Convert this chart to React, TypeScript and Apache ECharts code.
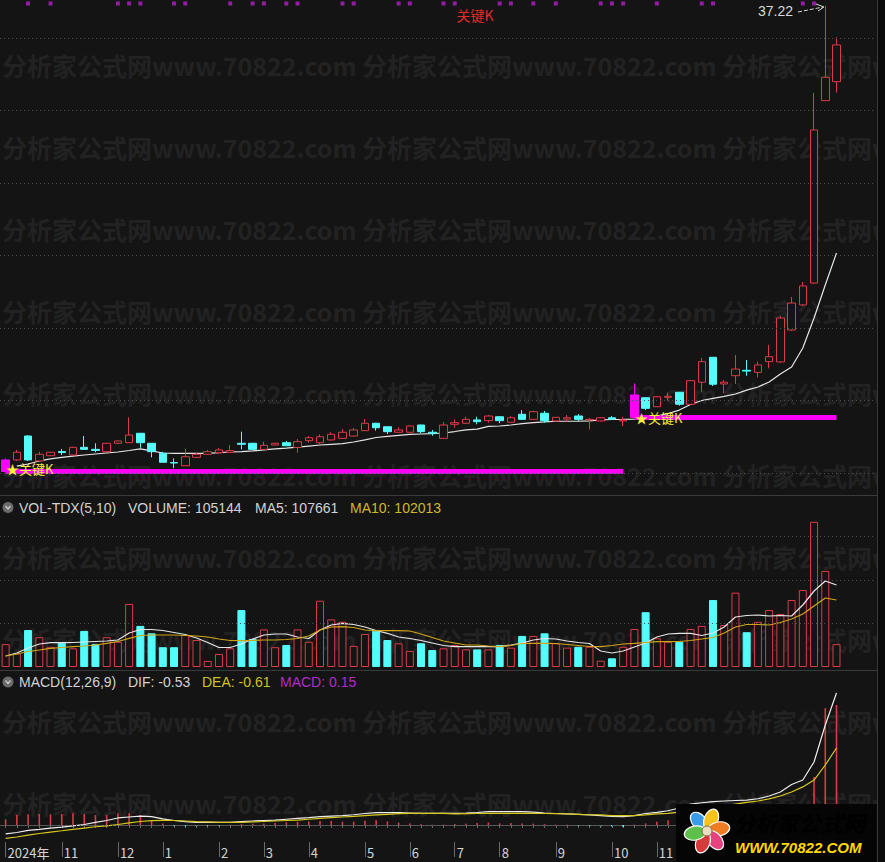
import React, { useEffect, useRef } from 'react';
import * as echarts from 'echarts';

// ---------- data ----------
const categories = Array.from({ length: 78 }, (_, i) => `W${i + 1}`);
const monthLabels: Record<number, string> = {
  0: '2024年', 5: '11', 10: '12', 14: '1', 19: '2', 23: '3', 27: '4', 32: '5', 36: '6',
  40: '7', 44: '8', 49: '9', 54: '10', 58: '11',
};

const opens = [5.10, 5.90, 7.55, 5.83, 6.19, 6.48, 6.24, 6.77, 6.63, 6.47, 7.05, 7.09, 7.74, 7.05, 6.36, 5.72, 5.50, 6.08, 6.29, 6.40,
  6.43, 7.05, 7.05, 6.63, 6.93, 7.09, 6.76, 7.23, 7.09, 7.28, 7.39, 7.55, 7.92, 8.43, 8.19, 7.81, 7.81, 8.31, 7.81, 7.39,
  8.36, 8.43, 8.66, 8.61, 8.88, 8.50, 9.05, 8.70, 9.12, 8.59, 8.72, 8.93, 8.66, 8.59, 8.81, 8.59, 8.83, 10.19, 9.57, 10.22,
  10.57, 9.74, 11.26, 12.98, 11.14, 11.71, 12.08, 11.94, 12.68, 12.66, 14.86, 16.59, 18.10, 30.68, 31.99];
const closes = [5.90, 6.43, 5.90, 6.29, 6.43, 6.41, 6.77, 6.63, 6.56, 7.05, 7.21, 7.62, 7.09, 6.47, 5.74, 5.69, 6.12, 6.29, 6.47, 6.59,
  6.55, 6.98, 6.63, 6.91, 7.05, 6.88, 7.16, 7.43, 7.50, 7.67, 7.81, 7.97, 8.43, 8.12, 7.85, 7.97, 8.24, 7.85, 7.74, 8.31,
  8.47, 8.70, 8.54, 8.93, 8.61, 8.81, 8.70, 9.23, 8.61, 8.84, 8.81, 8.70, 8.70, 8.81, 8.72, 8.66, 10.38, 9.46, 10.26, 10.29,
  9.74, 11.37, 12.68, 11.12, 11.26, 12.17, 12.03, 12.45, 13.02, 15.69, 16.72, 17.90, 28.66, 32.29, 34.52];
const lows = [5.05, 5.83, 5.83, 5.76, 6.17, 6.24, 6.21, 6.59, 6.43, 6.45, 7.00, 7.07, 6.74, 6.08, 5.74, 5.33, 5.48, 6.03, 6.24, 6.36,
  6.38, 6.63, 6.59, 6.59, 6.90, 6.86, 6.40, 7.09, 6.93, 7.24, 7.38, 7.52, 7.90, 7.92, 7.69, 7.79, 7.79, 7.74, 7.57, 7.38,
  8.12, 8.41, 8.36, 8.47, 8.43, 8.48, 8.69, 8.69, 8.47, 8.55, 8.54, 8.59, 8.00, 8.55, 8.66, 8.24, 8.79, 9.34, 9.55, 9.99,
  9.64, 9.72, 10.61, 11.00, 10.50, 11.14, 11.71, 11.60, 12.22, 12.59, 14.79, 16.52, 18.03, 30.66, 31.23];
const highs = [6.00, 6.59, 7.62, 6.47, 6.45, 6.66, 6.81, 7.55, 7.05, 7.07, 7.24, 8.84, 7.76, 7.07, 6.47, 6.01, 6.66, 6.38, 6.59, 6.72,
  6.93, 7.85, 7.07, 7.16, 7.07, 7.21, 7.34, 7.55, 7.67, 7.81, 8.03, 8.10, 8.72, 8.45, 8.21, 8.15, 8.28, 8.33, 7.97, 8.52,
  8.70, 8.88, 8.88, 9.00, 8.90, 8.93, 9.34, 9.30, 9.28, 8.86, 9.00, 9.07, 8.79, 8.86, 8.93, 8.88, 11.17, 10.24, 10.31, 10.54,
  10.59, 11.41, 12.93, 13.00, 11.41, 13.14, 12.79, 12.68, 13.83, 15.83, 17.14, 18.17, 31.21, 37.22, 35.05];
const priceMA = ['-', 5.48, 5.62, 5.83, 5.97, 6.08, 6.17, 6.24, 6.31, 6.38, 6.45, 6.55, 6.66, 6.52, 6.38, 6.36, 6.36, 6.36, 6.36, 6.41,
  6.45, 6.48, 6.52, 6.59, 6.66, 6.72, 6.79, 6.86, 6.93, 6.98, 7.03, 7.14, 7.28, 7.45, 7.52, 7.59, 7.66, 7.69, 7.72, 7.76,
  7.86, 7.97, 8.03, 8.21, 8.24, 8.31, 8.41, 8.48, 8.52, 8.57, 8.57, 8.57, 8.59, 8.66, 8.69, 8.70, 8.72, 8.79, 8.93, 9.10,
  9.34, 9.72, 10.00, 10.15, 10.28, 10.45, 10.72, 10.93, 11.28, 11.83, 12.31, 13.62, 15.69, 17.97, 20.17];

const volumes = [105144, 62000, 170000, 137000, 93000, 112000, 86000, 166000, 106000, 137000, 116000, 290000, 189000, 155000, 91000, 91000, 147000, 124000, 28000, 60000,
  86000, 262000, 129000, 173000, 91000, 101000, 173000, 116000, 305000, 219000, 208000, 97000, 152000, 167000, 124000, 109000, 74000, 109000, 78000, 86000,
  101000, 81000, 81000, 81000, 101000, 89000, 143000, 143000, 155000, 109000, 89000, 93000, 93000, 29000, 40000, 93000, 175000, 252000, 132000, 116000,
  116000, 175000, 189000, 308000, 193000, 342000, 160000, 208000, 262000, 244000, 308000, 354000, 668000, 442000, 105144];
const volMA5 = [50600, 64400, 87400, 105800, 111800, 111800, 112700, 115000, 117300, 119600, 124200, 156400, 172500, 172500, 167900, 158700, 149500, 133400, 112700, 89700,
  89700, 105800, 128800, 147200, 151800, 151800, 138000, 131100, 170200, 193200, 201000, 195500, 184000, 167900, 155000, 138000, 131100, 121900, 110400, 98900,
  93400, 93400, 93400, 93400, 93400, 101200, 110400, 124200, 131100, 128800, 119600, 112700, 108100, 73600, 64400, 73600, 92000, 110400, 138000, 151800,
  155000, 155000, 144900, 156400, 184000, 230000, 236900, 239200, 234600, 236900, 234600, 285200, 349600, 395600, 377200];
const volMA10 = [50600, 59800, 71300, 78200, 86000, 89700, 93400, 96600, 101200, 109000, 117300, 132000, 144900, 147200, 147200, 147200, 144900, 142600, 138000, 128800,
  121900, 121000, 121900, 124200, 124200, 126500, 131100, 142600, 170200, 184000, 185400, 181700, 170200, 167000, 167000, 167000, 165600, 151800, 135700, 119600,
  110400, 101200, 101200, 96600, 93400, 98900, 108100, 109000, 109000, 108100, 103500, 98900, 94300, 93400, 98900, 105800, 109000, 112700, 116400, 116400,
  117300, 121900, 128800, 135700, 156400, 184000, 195500, 195500, 193200, 204700, 220800, 243800, 280600, 317400, 308200];

const dif = [-0.56, -0.47, -0.34, -0.27, -0.19, -0.13, -0.06, 0.03, 0.16, 0.28, 0.44, 0.50, 0.56, 0.52, 0.38, 0.28, 0.21, 0.17, 0.17, 0.17,
  0.17, 0.21, 0.25, 0.28, 0.31, 0.36, 0.41, 0.46, 0.52, 0.56, 0.58, 0.64, 0.72, 0.77, 0.77, 0.77, 0.75, 0.73, 0.73, 0.73,
  0.73, 0.75, 0.78, 0.83, 0.83, 0.83, 0.83, 0.81, 0.75, 0.72, 0.69, 0.67, 0.63, 0.58, 0.53, 0.52, 0.59, 0.72, 0.79, 0.89,
  1.06, 1.31, 1.39, 1.46, 1.50, 1.53, 1.56, 1.64, 1.81, 2.06, 2.53, 2.81, 3.94, 6.25, 8.25];
const dea = [-0.83, -0.75, -0.63, -0.53, -0.44, -0.36, -0.27, -0.19, -0.11, -0.06, 0.03, 0.13, 0.22, 0.27, 0.29, 0.28, 0.25, 0.21, 0.19, 0.17,
  0.17, 0.17, 0.19, 0.22, 0.25, 0.28, 0.31, 0.36, 0.41, 0.46, 0.50, 0.54, 0.59, 0.63, 0.67, 0.71, 0.73, 0.73, 0.73, 0.73,
  0.69, 0.71, 0.72, 0.73, 0.73, 0.73, 0.73, 0.73, 0.72, 0.71, 0.69, 0.67, 0.64, 0.63, 0.59, 0.58, 0.59, 0.63, 0.69, 0.73,
  0.81, 0.91, 1.00, 1.09, 1.19, 1.31, 1.41, 1.50, 1.63, 1.81, 2.06, 2.38, 2.81, 3.75, 4.81];
const macdBars = [0.36, 0.62, 0.67, 0.69, 0.67, 0.69, 0.73, 0.69, 0.62, 0.62, 0.73, 0.73, 0.62, 0.31, 0.10, -0.05, -0.08, -0.08, -0.05, -0.03,
  0.02, 0.05, 0.08, 0.10, 0.12, 0.17, 0.20, 0.22, 0.25, 0.25, 0.20, 0.20, 0.27, 0.30, 0.22, 0.15, 0.10, 0.05, 0.02, 0.03,
  0.06, 0.08, 0.12, 0.15, 0.10, 0.12, 0.10, 0.08, 0.05, 0.02, 0.02, -0.03, -0.05, -0.08, -0.10, -0.12, 0.02, 0.10, 0.20, 0.30,
  0.45, 0.65, 0.70, 0.70, 0.60, 0.45, 0.30, 0.28, 0.38, 0.50, 0.95, 1.10, 3.00, 7.30, 7.50];

const keyCandles = [0, 56];
const keyPrices = [5.10, 8.83];
const keyLineEnds = [55, 74];
const signalWeeks = [2, 4, 10, 11, 12, 15, 16, 20, 22, 23, 25, 26, 30, 31, 35, 36, 39, 40, 44, 45, 47, 49, 53, 54, 55, 58, 62, 63, 71, 72];
const priceGridLines = [5, 10, 15, 20, 25, 30, 35];
const volGridLines = [200000, 400000, 600000];

// ---------- style ----------
const BG = '#141414';
const RED = '#dc3a48';
const CYAN = '#54fcfc';
const MAGENTA = '#ff00ff';
const DOT = '#4e4e4e';
const FONT = '"Liberation Sans", Arial, "Noto Sans CJK SC", sans-serif';
const CJK = '"Noto Sans CJK SC", "Liberation Sans", sans-serif';

const gridLeft = -4;
const gridWidth = 879.8;

function buildOption() {
  const candleData = opens.map((o, i) => {
    const v = [o, closes[i], lows[i], highs[i]];
    if (keyCandles.includes(i)) {
      return { value: v, itemStyle: { color: MAGENTA, color0: MAGENTA, borderColor: MAGENTA, borderColor0: MAGENTA } };
    }
    return v;
  });
  const volData = volumes.map((v, i) => {
    const up = closes[i] >= opens[i];
    return {
      value: v,
      itemStyle: { color: up ? BG : CYAN, borderColor: up ? RED : CYAN, borderWidth: 1 },
    };
  });
  const macdData = macdBars.map((v) => ({ value: v, itemStyle: { color: v >= 0 ? RED : CYAN } }));
  const dotted = (values: number[]) => ({
    silent: true,
    symbol: ['none', 'none'],
    label: { show: false },
    lineStyle: { color: DOT, type: [1, 3], width: 1 },
    data: values.map((v) => ({ yAxis: v })),
  });

  const watermark: any[] = [];
  for (let r = 0; r < 10; r++) {
    for (let c = 0; c < 3; c++) {
      watermark.push({
        type: 'text', x: 2 + c * 360, y: 65 + r * 82, z: 0, silent: true,
        style: { text: '分析家公式网www.70822.com', fill: '#222222', font: `bold 25px ${CJK}`, verticalAlign: 'middle', textVerticalAlign: 'middle' },
      });
    }
  }

  const petals = [
    { a: -40, c: '#3b9be6' }, { a: 20, c: '#f6c31c' }, { a: 80, c: '#ef7b22' },
    { a: 140, c: '#e8417f' }, { a: 200, c: '#d63a3a' }, { a: 260, c: '#5cc04a' },
  ];

  const tStyle = (text: string, fill: any, font: string) => ({
    text, fill, font, verticalAlign: 'middle', textVerticalAlign: 'middle',
  });
  const TOP = { z: 100, zlevel: 1 };

  const graphics: any[] = [
    ...watermark,
    // right strip beyond border
    { type: 'rect', ...TOP, silent: true, shape: { x: 878, y: 0, width: 7, height: 862 }, style: { fill: '#0b0b0b' } },
    // separators and border
    { type: 'line', shape: { x1: 0, y1: 495.5, x2: 878, y2: 495.5 }, style: { stroke: '#3a3a3a', lineWidth: 1 }, z: 1, silent: true },
    { type: 'line', shape: { x1: 0, y1: 670.5, x2: 878, y2: 670.5 }, style: { stroke: '#3a3a3a', lineWidth: 1 }, z: 1, silent: true },
    { type: 'line', ...TOP, shape: { x1: 877.5, y1: 0, x2: 877.5, y2: 862 }, style: { stroke: '#3a3a3a', lineWidth: 1 }, silent: true },
    // top annotations
    { type: 'text', x: 475, y: 15, z: 5, style: { text: '关键K', fill: '#e02a2a', font: `14px ${CJK}`, align: 'center', textAlign: 'center', verticalAlign: 'middle', textVerticalAlign: 'middle' } },
    { type: 'text', x: 758, y: 11, z: 5, style: tStyle('37.22', '#d8d8d8', `14px ${FONT}`) },
    { type: 'line', z: 5, shape: { x1: 798, y1: 12, x2: 823, y2: 7 }, style: { stroke: '#d8d8d8', lineWidth: 1, lineDash: [4, 2] } },
    { type: 'polyline', z: 5, shape: { points: [[816, 4], [824, 7], [818, 11]] }, style: { stroke: '#d8d8d8', lineWidth: 1, fill: null } },
    // VOL title
    { type: 'circle', z: 5, shape: { cx: 8, cy: 507.5, r: 5.5 }, style: { fill: '#6a6a6a' } },
    { type: 'polyline', z: 6, shape: { points: [[5.5, 506], [8, 509], [10.5, 506]] }, style: { stroke: '#d0d0d0', lineWidth: 1.2, fill: null } },
    { type: 'text', x: 19, y: 507.5, z: 5, style: tStyle('VOL-TDX(5,10)', '#d2d2d2', `14px ${FONT}`) },
    { type: 'text', x: 128, y: 507.5, z: 5, style: tStyle('VOLUME: 105144', '#d2d2d2', `14px ${FONT}`) },
    { type: 'text', x: 255, y: 507.5, z: 5, style: tStyle('MA5: 107661', '#d2d2d2', `14px ${FONT}`) },
    { type: 'text', x: 350, y: 507.5, z: 5, style: tStyle('MA10: 102013', '#cdb92a', `14px ${FONT}`) },
    // MACD title
    { type: 'circle', z: 5, shape: { cx: 8, cy: 682, r: 5.5 }, style: { fill: '#6a6a6a' } },
    { type: 'polyline', z: 6, shape: { points: [[5.5, 680.5], [8, 683.5], [10.5, 680.5]] }, style: { stroke: '#d0d0d0', lineWidth: 1.2, fill: null } },
    { type: 'text', x: 19, y: 682, z: 5, style: tStyle('MACD(12,26,9)', '#d2d2d2', `14px ${FONT}`) },
    { type: 'text', x: 128, y: 682, z: 5, style: tStyle('DIF: -0.53', '#d2d2d2', `14px ${FONT}`) },
    { type: 'text', x: 202, y: 682, z: 5, style: tStyle('DEA: -0.61', '#cdc22a', `14px ${FONT}`) },
    { type: 'text', x: 280, y: 682, z: 5, style: tStyle('MACD: 0.15', '#b02cc8', `14px ${FONT}`) },
    // logo
    { type: 'rect', ...TOP, shape: { x: 676, y: 804, width: 201, height: 58 }, style: { fill: '#050505' } },
    ...petals.map((p) => ({
      type: 'group', x: 707, y: 831, rotation: (-p.a * Math.PI) / 180,
      children: [{ type: 'ellipse', z: 101, zlevel: 1, shape: { cx: 0, cy: -12, rx: 7, ry: 11 }, style: { fill: p.c, stroke: '#ffffff', lineWidth: 1.2 } }],
    })),
    { type: 'circle', z: 102, zlevel: 1, shape: { cx: 707, cy: 831, r: 5 }, style: { fill: '#e8e0c0', stroke: '#806040', lineWidth: 1 } },
    { type: 'text', x: 733, y: 822, z: 102, zlevel: 1, style: tStyle('分析家公式网', new (echarts as any).graphic.LinearGradient(0, 0, 0, 1, [{ offset: 0, color: '#ffcc33' }, { offset: 1, color: '#e8601c' }]), `italic bold 22px ${CJK}`) },
    { type: 'text', x: 735, y: 847, z: 102, zlevel: 1, style: tStyle('WWW.70822.COM', '#ffd800', `italic bold 15px ${FONT}`) },
  ];

  return {
    animation: false,
    backgroundColor: BG,
    graphic: { elements: graphics },
    grid: [
      { left: gridLeft, width: gridWidth, top: 0, height: 493 },
      { left: gridLeft, width: gridWidth, top: 517, height: 150 },
      { left: gridLeft, width: gridWidth, top: 672, height: 170 },
      { left: gridLeft, width: gridWidth, top: 0, height: 7 },
    ],
    xAxis: [
      { type: 'category', data: categories, gridIndex: 0, show: false },
      { type: 'category', data: categories, gridIndex: 1, show: false },
      {
        type: 'category', data: categories, gridIndex: 2, position: 'bottom',
        axisLine: { show: true, lineStyle: { color: '#5a5a5a' } },
        axisTick: { show: true, alignWithLabel: true, interval: 0, length: 3, lineStyle: { color: '#6a6a6a' } },
        axisLabel: { show: false }, splitLine: { show: false },
      },
      {
        type: 'category', data: categories, gridIndex: 2, position: 'bottom',
        axisLine: { show: false },
        axisTick: { show: true, alignWithLabel: true, interval: (i: number) => monthLabels[i] !== undefined, length: 15, lineStyle: { color: '#6a6a6a' } },
        axisLabel: {
          show: true, interval: (i: number) => monthLabels[i] !== undefined,
          formatter: (_v: string, i: number) => monthLabels[i] ?? '',
          align: 'left', margin: 4, padding: [0, 0, 0, 2], color: '#d4d4d4', fontSize: 13, fontFamily: CJK,
        },
        splitLine: { show: false },
      },
      { type: 'category', data: categories, gridIndex: 3, show: false },
    ],
    yAxis: [
      { type: 'value', gridIndex: 0, min: 3.6207, max: 37.6207, show: false },
      { type: 'value', gridIndex: 1, min: 0, max: 690000, show: false },
      { type: 'value', gridIndex: 2, min: -1.0625, max: 9.5625, show: false },
      { type: 'value', gridIndex: 3, min: 0, max: 2, show: false },
    ],
    series: [
      {
        type: 'candlestick', xAxisIndex: 0, yAxisIndex: 0, barWidth: 8, data: candleData, z: 3,
        itemStyle: { color: BG, color0: CYAN, borderColor: RED, borderColor0: CYAN, borderWidth: 1 },
        markLine: {
          silent: true, symbol: ['none', 'none'], label: { show: false },
          lineStyle: { color: MAGENTA, width: 5, type: 'solid' },
          data: keyCandles.map((k, j) => [
            { coord: [categories[k], keyPrices[j]] },
            { coord: [categories[keyLineEnds[j]], keyPrices[j]] },
          ]),
        },
        markPoint: {
          silent: true, symbol: 'rect', symbolSize: 1, itemStyle: { color: 'rgba(0,0,0,0)' },
          label: {
            show: true, position: 'right', distance: 0, formatter: '★关键K',
            color: '#ffef3a', fontSize: 13, fontFamily: CJK,
          },
          data: keyCandles.map((k, j) => ({ coord: [categories[k], keyPrices[j]], label: { offset: [0, j === 0 ? -3 : 0] } })),
        },
      },
      {
        type: 'line', xAxisIndex: 0, yAxisIndex: 0, data: priceMA, symbol: 'none', z: 2,
        lineStyle: { color: '#e6e6e6', width: 1.2 },
        markLine: dotted(priceGridLines),
      },
      {
        type: 'bar', xAxisIndex: 1, yAxisIndex: 1, barWidth: 8, data: volData, z: 2,
        markLine: dotted(volGridLines),
      },
      { type: 'line', xAxisIndex: 1, yAxisIndex: 1, data: volMA5, symbol: 'none', z: 3, lineStyle: { color: '#e6e6e6', width: 1.2 } },
      { type: 'line', xAxisIndex: 1, yAxisIndex: 1, data: volMA10, symbol: 'none', z: 3, lineStyle: { color: '#d0a418', width: 1.2 } },
      {
        type: 'bar', xAxisIndex: 2, yAxisIndex: 2, barWidth: 1.6, data: macdData, z: 2,
        markLine: dotted([0]),
      },
      { type: 'line', xAxisIndex: 2, yAxisIndex: 2, data: dif, symbol: 'none', z: 3, lineStyle: { color: '#eeeeee', width: 1.2 } },
      { type: 'line', xAxisIndex: 2, yAxisIndex: 2, data: dea, symbol: 'none', z: 3, lineStyle: { color: '#d8c81c', width: 1.2 } },
      {
        type: 'scatter', xAxisIndex: 4, yAxisIndex: 3, symbol: 'rect', symbolSize: 4, z: 3,
        itemStyle: { color: '#b41ec8' },
        data: signalWeeks.map((w) => [categories[w], 1]),
      },
    ],
  };
}

export default function App() {
  const ref = useRef<HTMLDivElement>(null);
  useEffect(() => {
    document.body.style.margin = '0';
    document.body.style.background = BG;
    if (!ref.current) return;
    const chart = echarts.init(ref.current, undefined, { renderer: 'svg' });
    chart.setOption(buildOption() as any);
    return () => chart.dispose();
  }, []);
  return <div ref={ref} style={{ position: 'fixed', left: 0, top: 0, width: 885, height: 862 }} />;
}
